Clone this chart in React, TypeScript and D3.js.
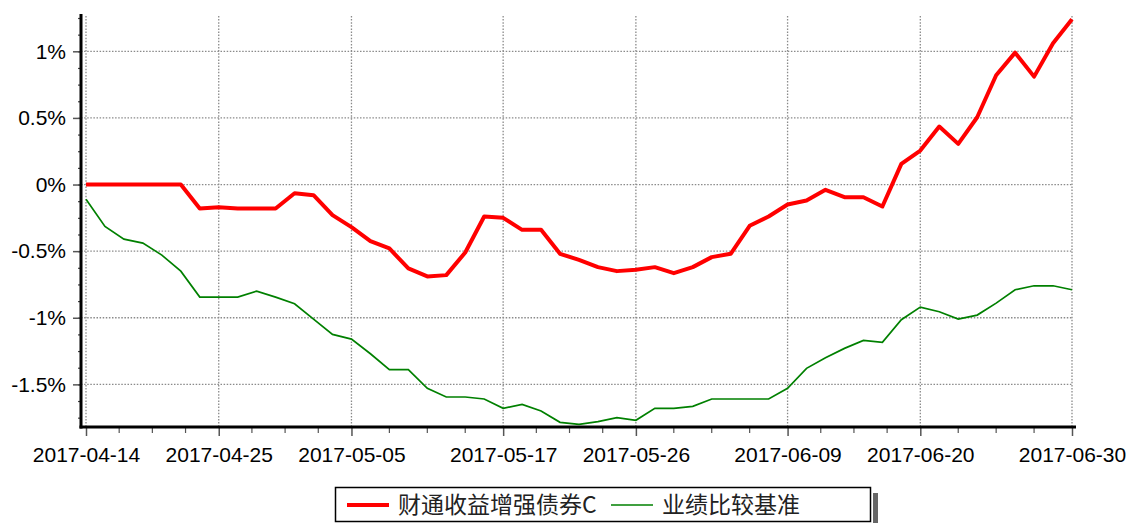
import React, { useRef, useEffect } from "react";
import * as d3 from "d3";

// trading days shown on the x axis
const dates = [
  "2017-04-14", "2017-04-17", "2017-04-18", "2017-04-19", "2017-04-20", "2017-04-21",
  "2017-04-24", "2017-04-25", "2017-04-26", "2017-04-27", "2017-04-28",
  "2017-05-02", "2017-05-03", "2017-05-04", "2017-05-05",
  "2017-05-08", "2017-05-09", "2017-05-10", "2017-05-11", "2017-05-12",
  "2017-05-15", "2017-05-16", "2017-05-17", "2017-05-18", "2017-05-19",
  "2017-05-22", "2017-05-23", "2017-05-24", "2017-05-25", "2017-05-26",
  "2017-05-31", "2017-06-01", "2017-06-02",
  "2017-06-05", "2017-06-06", "2017-06-07", "2017-06-08", "2017-06-09",
  "2017-06-12", "2017-06-13", "2017-06-14", "2017-06-15", "2017-06-16",
  "2017-06-19", "2017-06-20", "2017-06-21", "2017-06-22", "2017-06-23",
  "2017-06-26", "2017-06-27", "2017-06-28", "2017-06-29", "2017-06-30",
];

// fund return, %
const fundValues = [
  0, 0, 0, 0, 0, 0, -0.18, -0.17, -0.18, -0.18, -0.18,
  -0.065, -0.08, -0.23, -0.32,
  -0.425, -0.48, -0.63, -0.69, -0.68,
  -0.51, -0.24, -0.25, -0.34, -0.34,
  -0.52, -0.565, -0.62, -0.65, -0.64,
  -0.62, -0.665, -0.62,
  -0.545, -0.52, -0.31, -0.24, -0.15,
  -0.12, -0.04, -0.095, -0.095, -0.165,
  0.155, 0.255, 0.435, 0.305, 0.505,
  0.82, 0.99, 0.81, 1.06, 1.24,
];

// benchmark return, %
const benchValues = [
  -0.11, -0.315, -0.41, -0.44, -0.53, -0.65, -0.845, -0.845, -0.845, -0.8, -0.845,
  -0.895, -1.01, -1.125, -1.16,
  -1.27, -1.39, -1.39, -1.53, -1.595,
  -1.595, -1.61, -1.68, -1.65, -1.7,
  -1.785, -1.8, -1.78, -1.75, -1.77,
  -1.68, -1.68, -1.665,
  -1.61, -1.61, -1.61, -1.61, -1.53,
  -1.38, -1.3, -1.23, -1.17, -1.185,
  -1.015, -0.92, -0.955, -1.01, -0.98,
  -0.89, -0.79, -0.76, -0.76, -0.79,
];

const xTickLabels = [
  "2017-04-14", "2017-04-25", "2017-05-05", "2017-05-17",
  "2017-05-26", "2017-06-09", "2017-06-20", "2017-06-30",
];
const yTicks = [-1.5, -1, -0.5, 0, 0.5, 1];

const seriesNames = ["财通收益增强债券C", "业绩比较基准"];

export default function App() {
  const svgRef = useRef<SVGSVGElement>(null);
  const width = 1127;
  const height = 523;
  const axisX = 81;
  const axisY = 427;
  const top = 14;

  useEffect(() => {
    const svg = d3.select(svgRef.current);
    svg.selectAll("*").remove();

    const x = d3.scalePoint<string>().domain(dates).range([86, 1072]);
    const y = d3.scaleLinear().domain([-1.82, 1.28]).range([axisY, top]);

    const font = "'Liberation Sans', Arial, sans-serif";

    // grid
    const grid = svg.append("g")
      .attr("stroke", "#8a8a8a")
      .attr("stroke-width", 1.3)
      .attr("stroke-dasharray", "1.5,1.6");
    grid.selectAll("line.h")
      .data(yTicks)
      .enter()
      .append("line")
      .attr("x1", axisX)
      .attr("x2", 1072)
      .attr("y1", d => y(d))
      .attr("y2", d => y(d));
    grid.selectAll("line.v")
      .data(xTickLabels)
      .enter()
      .append("line")
      .attr("x1", d => x(d))
      .attr("x2", d => x(d))
      .attr("y1", 16)
      .attr("y2", axisY);

    // minor y ticks
    svg.append("g")
      .attr("transform", `translate(${axisX},0)`)
      .call(d3.axisLeft(y).tickValues(d3.range(-1.75, 1.26, 0.125)).tickSize(3).tickFormat(() => ""))
      .call(g => g.select(".domain").remove())
      .call(g => g.selectAll("line").attr("stroke", "#444").attr("stroke-width", 1.2));

    // major y ticks + labels
    svg.append("g")
      .attr("transform", `translate(${axisX},0)`)
      .call(d3.axisLeft(y).tickValues(yTicks).tickSize(8).tickPadding(7).tickFormat(d => `${d}%`))
      .call(g => g.select(".domain").remove())
      .call(g => g.selectAll("line").attr("stroke", "#555").attr("stroke-width", 1.5))
      .call(g => g.selectAll("text")
        .attr("fill", "#000")
        .style("font-family", font)
        .style("font-size", "21px"));

    // minor x ticks (4 per interval)
    const minorX: number[] = [];
    for (let i = 0; i < xTickLabels.length - 1; i++) {
      const a = x(xTickLabels[i])!;
      const b = x(xTickLabels[i + 1])!;
      for (let k = 1; k < 4; k++) minorX.push(a + (k * (b - a)) / 4);
    }
    svg.append("g")
      .selectAll("line")
      .data(minorX)
      .enter()
      .append("line")
      .attr("x1", d => d)
      .attr("x2", d => d)
      .attr("y1", axisY)
      .attr("y2", axisY + 6)
      .attr("stroke", "#555")
      .attr("stroke-width", 1.2);

    // major x ticks + labels
    svg.append("g")
      .attr("transform", `translate(0,${axisY})`)
      .call(d3.axisBottom(x).tickValues(xTickLabels).tickSize(9).tickPadding(11))
      .call(g => g.select(".domain").remove())
      .call(g => g.selectAll("line").attr("stroke", "#555").attr("stroke-width", 1.5))
      .call(g => g.selectAll("text")
        .attr("fill", "#000")
        .style("font-family", font)
        .style("font-size", "21px"));

    // axis lines
    svg.append("line")
      .attr("x1", axisX).attr("x2", axisX)
      .attr("y1", top).attr("y2", axisY + 1.5)
      .attr("stroke", "#000").attr("stroke-width", 3);
    svg.append("line")
      .attr("x1", axisX - 1.5).attr("x2", 1076)
      .attr("y1", axisY).attr("y2", axisY)
      .attr("stroke", "#000").attr("stroke-width", 3);

    // lines
    const line = d3.line<number>()
      .x((_, i) => x(dates[i])!)
      .y(d => y(d));

    svg.append("path")
      .datum(benchValues)
      .attr("fill", "none")
      .attr("stroke", "#008000")
      .attr("stroke-width", 1.7)
      .attr("d", line);

    svg.append("path")
      .datum(fundValues)
      .attr("fill", "none")
      .attr("stroke", "#ff0000")
      .attr("stroke-width", 4)
      .attr("stroke-linejoin", "round")
      .attr("d", line);

    // legend
    const lg = svg.append("g");
    lg.append("rect")
      .attr("x", 873).attr("y", 493)
      .attr("width", 5).attr("height", 32)
      .attr("fill", "#666");
    lg.append("rect")
      .attr("x", 335.5).attr("y", 487.5)
      .attr("width", 535).attr("height", 34)
      .attr("fill", "#fff")
      .attr("stroke", "#000")
      .attr("stroke-width", 1.5);

    const items = [
      { name: seriesNames[0], color: "#ff0000", w: 4, x0: 347 },
      { name: seriesNames[1], color: "#008000", w: 1.7, x0: 611 },
    ];
    items.forEach(it => {
      lg.append("line")
        .attr("x1", it.x0).attr("x2", it.x0 + 42)
        .attr("y1", 505).attr("y2", 505)
        .attr("stroke", it.color)
        .attr("stroke-width", it.w);
      lg.append("text")
        .attr("x", it.x0 + 51)
        .attr("y", 505)
        .attr("dy", "0.36em")
        .attr("fill", "#222")
        .style("font-family", "'Noto Sans CJK SC', 'Noto Sans', sans-serif")
        .style("font-size", "23px")
        .text(it.name);
    });
  }, []);

  return (
    <svg
      ref={svgRef}
      width={width}
      height={height}
      style={{ position: "absolute", left: 0, top: 0, background: "#fff" }}
    ></svg>
  );
}
